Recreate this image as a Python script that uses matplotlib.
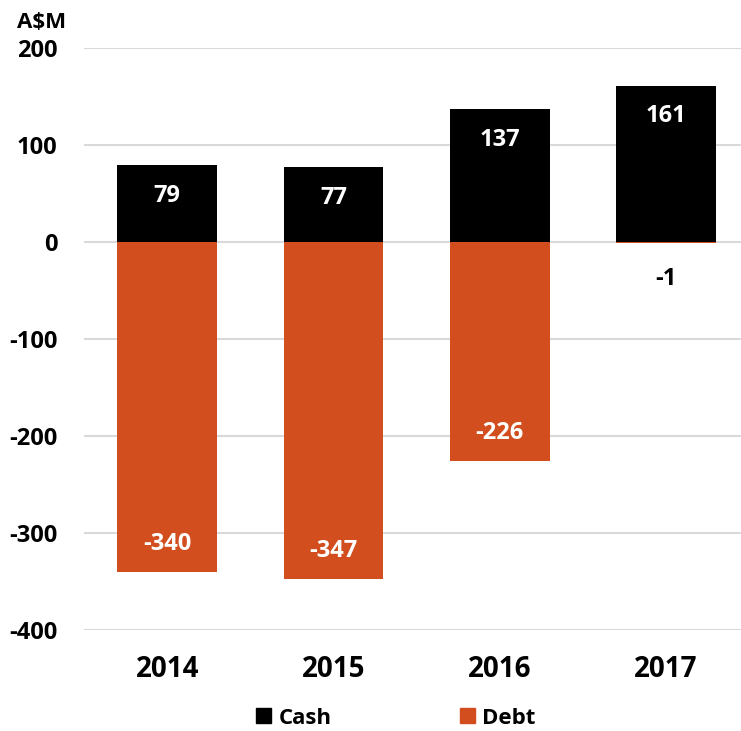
import matplotlib.pyplot as plt
from matplotlib.patches import Patch

years = ["2014", "2015", "2016", "2017"]
cash = [79, 77, 137, 161]
debt = [-340, -347, -226, -1]

CASH_COLOR = "#000000"
DEBT_COLOR = "#D24E1E"

plt.rcParams['font.family'] = ['Open Sans', 'DejaVu Sans']
plt.rcParams['font.weight'] = 'bold'
plt.rcParams['axes.unicode_minus'] = False

fig = plt.figure(figsize=(7.41, 7.31), dpi=100)
ax = fig.add_axes([84/741, 1 - 630/731, 657/741, 582/731])

x = range(len(years))
ax.bar(x, cash, width=0.6, color=CASH_COLOR, zorder=3)
ax.bar(x, debt, width=0.6, color=DEBT_COLOR, zorder=3)

# value labels, inside the bar end
for i, v in enumerate(cash):
    ax.annotate(str(v), (i, v), xytext=(0, -22), textcoords="offset points",
                ha="center", va="center", color="white", fontsize=17, fontweight="bold")
for i, v in enumerate(debt):
    if v < -20:
        ax.annotate(str(v), (i, v), xytext=(0, 20), textcoords="offset points",
                    ha="center", va="center", color="white", fontsize=17, fontweight="bold")
    else:
        ax.annotate(str(v), (i, v), xytext=(0, -26), textcoords="offset points",
                    ha="center", va="center", color="black", fontsize=17, fontweight="bold")

ax.set_xlim(-0.5, 3.45)
ax.set_ylim(-400, 200)
ax.set_yticks(range(-400, 201, 100))
ax.set_xticks(list(x))
ax.set_xticklabels(years, fontsize=20, fontweight="bold")
ax.tick_params(axis="y", labelsize=17, length=0, pad=19)
ax.tick_params(axis="x", length=0, pad=18)
for lbl in ax.get_yticklabels():
    lbl.set_fontweight("bold")
for s in ax.spines.values():
    s.set_visible(False)
ax.grid(axis="y", color="#d9d9d9", linewidth=1.5, zorder=0)

fig.text(17/741, 1 - 22/731, "A\\$M", fontsize=16, fontweight="bold", va="center", ha="left")

handles = [Patch(color=CASH_COLOR, label="Cash"), Patch(color=DEBT_COLOR, label="Debt")]
fig.legend(handles=handles, loc="center", bbox_to_anchor=(396/741, 1 - 718/731), ncol=2,
           frameon=False, fontsize=16, handlelength=0.65, handleheight=0.65,
           handletextpad=0.35, columnspacing=5.8)

fig.savefig("out.png", dpi=100)
